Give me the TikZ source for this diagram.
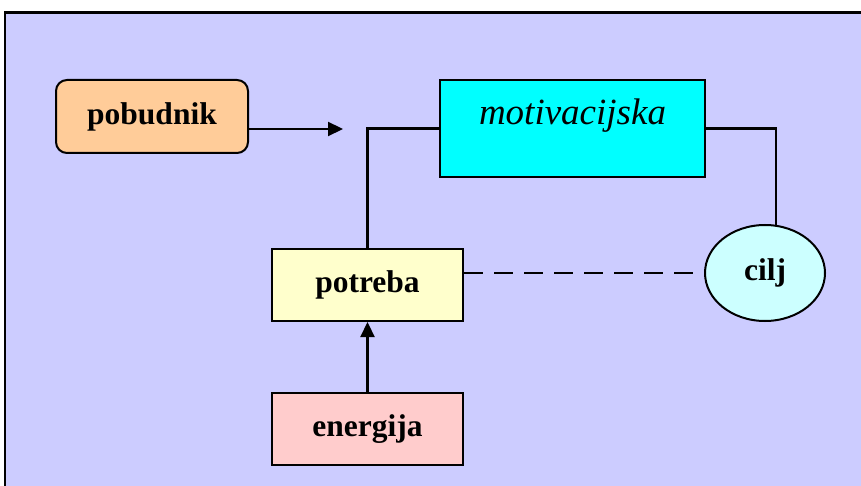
\documentclass[tikz,border=0pt]{standalone}
\usepackage{fontspec}
\setmainfont{Liberation Serif}
\usetikzlibrary{arrows.meta,shapes.geometric}
\definecolor{panelbg}{HTML}{CCCCFF}
\definecolor{pobfill}{HTML}{FFCC99}
\definecolor{motfill}{HTML}{00FFFF}
\definecolor{potfill}{HTML}{FFFFCC}
\definecolor{ciljfill}{HTML}{CCFFFF}
\definecolor{enfill}{HTML}{FFCCCC}
\tikzset{
  box/.style={draw=black, line width=2pt, inner sep=0pt, font=\fontsize{31.5}{36}\selectfont\bfseries},
  conn/.style={line width=2.2pt, draw=black},
  tip/.style={-{Triangle[length=15pt,width=14pt]}}
}
\begin{document}
\begin{tikzpicture}[x=1pt,y=-1pt]
\useasboundingbox (0,0) rectangle (861,486);
\fill[white] (0,0) rectangle (861,486);
\draw[fill=panelbg, line width=2.5pt] (5,12.5) rectangle (875,500);
% nodes
\node[box, fill=pobfill, rounded corners=11pt, minimum width=192pt, minimum height=73pt] (pob) at (152,116.5) {pobudnik};
\node[box, fill=motfill, minimum width=265pt, minimum height=97pt] (mot) at (572.5,128.5) {};
\node[font=\fontsize{37}{42}\selectfont\itshape, anchor=base, inner sep=0pt] (mottext) at (572.5,125) {motivacijska};
\node[box, fill=potfill, minimum width=191pt, minimum height=72pt] (pot) at (367.5,285) {potreba};
\node[box, fill=enfill, minimum width=191pt, minimum height=72pt] (en) at (367.5,429) {energija};
\node[box, ellipse, fill=ciljfill, minimum width=120pt, minimum height=96pt] (cilj) at (765,273) {cilj};
\coordinate (pobend) at (343,129);
% connectors
\draw[conn, tip] (pob.east |- pobend) -- (pobend);
\draw[conn] (pot.north) |- (mot.west);
\draw[conn] (mot.east) -| (cilj.77);
\draw[conn, dash pattern=on 19pt off 11pt] (cilj.west -| pot.east) -- (cilj.west);
\draw[conn, tip] (en.north) -- (pot.south);
\end{tikzpicture}
\end{document}
